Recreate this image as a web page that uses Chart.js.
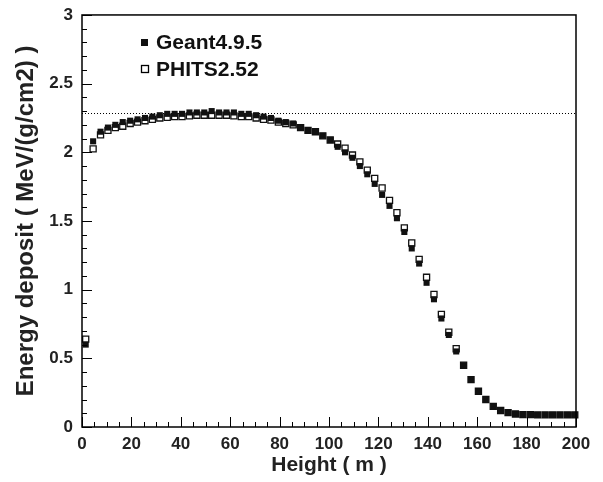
<!DOCTYPE html>
<html>
<head>
<meta charset="utf-8">
<script src="https://cdn.jsdelivr.net/npm/chart.js@4"></script>
<style>
  html, body { margin: 0; padding: 0; background: #fff; }
  #wrap { width: 603px; height: 482px; }
</style>
</head>
<body>
<div id="wrap"><canvas id="c" width="603" height="482"></canvas></div>
<script>
// Altura (m): centro de cada bin de 3 m
const heights = [1.5, 4.5, 7.5, 10.5, 13.5, 16.5, 19.5, 22.5, 25.5, 28.5,
  31.5, 34.5, 37.5, 40.5, 43.5, 46.5, 49.5, 52.5, 55.5, 58.5,
  61.5, 64.5, 67.5, 70.5, 73.5, 76.5, 79.5, 82.5, 85.5, 88.5,
  91.5, 94.5, 97.5, 100.5, 103.5, 106.5, 109.5, 112.5, 115.5, 118.5,
  121.5, 124.5, 127.5, 130.5, 133.5, 136.5, 139.5, 142.5, 145.5, 148.5,
  151.5, 154.5, 157.5, 160.5, 163.5, 166.5, 169.5, 172.5, 175.5, 178.5,
  181.5, 184.5, 187.5, 190.5, 193.5, 196.5, 199.5];

const geant = [0.60, 2.08, 2.15, 2.18, 2.20, 2.22, 2.23, 2.24, 2.25, 2.26,
  2.27, 2.28, 2.28, 2.28, 2.29, 2.29, 2.29, 2.30, 2.29, 2.29,
  2.29, 2.28, 2.28, 2.27, 2.26, 2.25, 2.23, 2.22, 2.21, 2.18,
  2.16, 2.15, 2.12, 2.09, 2.04, 2.00, 1.96, 1.90, 1.84, 1.77,
  1.69, 1.61, 1.52, 1.42, 1.30, 1.19, 1.05, 0.93, 0.79, 0.67,
  0.55, 0.45, 0.345, 0.26, 0.20, 0.15, 0.12, 0.105, 0.095, 0.09,
  0.09, 0.088, 0.088, 0.088, 0.088, 0.088, 0.088];

const phits = [0.64, 2.025, 2.127, 2.16, 2.18, 2.19, 2.21, 2.22, 2.23, 2.24,
  2.25, 2.255, 2.26, 2.26, 2.265, 2.27, 2.27, 2.27, 2.27, 2.27,
  2.265, 2.26, 2.26, 2.25, 2.24, 2.235, 2.22, 2.21, 2.20, 2.18,
  2.16, 2.15, 2.12, 2.09, 2.06, 2.03, 1.98, 1.93, 1.87, 1.81,
  1.74, 1.65, 1.56, 1.45, 1.34, 1.22, 1.09, 0.965, 0.82, 0.69,
  0.57, 0.45, 0.345, 0.26, 0.20, 0.15, 0.12, 0.105, 0.095, 0.09,
  0.09, 0.088, 0.088, 0.088, 0.088, 0.088, 0.088];

const refLevel = 2.287;   // línea punteada
const seriesNames = ['Geant4.9.5', 'PHITS2.52'];

const FONT = '"Liberation Sans", Arial, Helvetica, sans-serif';

const toPts = (ys) => heights.map((h, i) => ({ x: h, y: ys[i] }));

// Marco, ticks interiores, línea de referencia y leyenda
const framePlugin = {
  id: 'frame',
  beforeDatasetsDraw(chart) {
    const { ctx, scales: { x, y } } = chart;
    ctx.save();
    ctx.strokeStyle = '#000';
    ctx.lineWidth = 1;
    ctx.setLineDash([1, 2]);
    ctx.beginPath();
    const yr = Math.round(y.getPixelForValue(refLevel)) + 0.5;
    ctx.moveTo(x.getPixelForValue(0), yr);
    ctx.lineTo(x.getPixelForValue(200), yr);
    ctx.stroke();
    ctx.restore();
  },
  afterDraw(chart) {
    const { ctx, chartArea: a, scales: { x, y } } = chart;
    ctx.save();
    ctx.strokeStyle = '#000';
    ctx.lineWidth = 1.5;
    ctx.strokeRect(a.left, a.top, a.right - a.left, a.bottom - a.top);
    ctx.lineWidth = 1;
    ctx.beginPath();
    for (let v = 0; v <= 200; v += 5) {
      const px = Math.round(x.getPixelForValue(v)) + 0.5;
      const len = v % 20 === 0 ? 10 : 5;
      ctx.moveTo(px, a.bottom);
      ctx.lineTo(px, a.bottom - len);
    }
    for (let k = 0; k <= 30; k++) {
      const py = Math.round(y.getPixelForValue(k / 10)) + 0.5;
      const len = k % 5 === 0 ? 10 : 5;
      ctx.moveTo(a.left, py);
      ctx.lineTo(a.left + len, py);
    }
    ctx.stroke();

    // leyenda
    ctx.font = 'bold 21px ' + FONT;
    ctx.textBaseline = 'middle';
    ctx.fillStyle = '#111';
    ctx.fillRect(141, 39, 7, 7);
    ctx.fillText(seriesNames[0], 156, 43);
    ctx.lineWidth = 1.3;
    ctx.strokeRect(141.5, 65.5, 7, 7);
    ctx.fillText(seriesNames[1], 156, 70);
    ctx.restore();
  }
};

new Chart(document.getElementById('c'), {
  type: 'scatter',
  data: {
    datasets: [
      {
        label: seriesNames[0],
        data: toPts(geant),
        pointStyle: 'rect',
        pointRadius: 4.3,
        pointHoverRadius: 4.3,
        backgroundColor: '#111',
        borderColor: '#111',
        borderWidth: 0,
        clip: false
      },
      {
        label: seriesNames[1],
        data: toPts(phits),
        pointStyle: 'rect',
        pointRadius: 4.3,
        pointHoverRadius: 4.3,
        backgroundColor: '#fff',
        borderColor: '#111',
        borderWidth: 1.3,
        clip: false
      }
    ]
  },
  options: {
    responsive: false,
    animation: false,
    layout: { padding: { top: 14, right: 27, left: 0, bottom: 0 } },
    plugins: { legend: { display: false }, tooltip: { enabled: false } },
    scales: {
      x: {
        type: 'linear',
        min: 0, max: 200,
        grid: { display: false, drawTicks: false },
        border: { display: false },
        ticks: { stepSize: 20, padding: 7, color: '#222', font: { family: FONT, size: 17, weight: 'bold' } },
        title: { display: true, text: 'Height ( m )', color: '#222', padding: { top: 4, bottom: 4 }, font: { family: FONT, size: 21, weight: 'bold' } },
        afterFit(s) { s.height = 55; }
      },
      y: {
        min: 0, max: 3,
        grid: { display: false, drawTicks: false },
        border: { display: false },
        ticks: {
          stepSize: 0.5, padding: 9, color: '#222',
          font: { family: FONT, size: 17, weight: 'bold', lineHeight: 0.7 },
          callback: (v) => String(v)
        },
        title: { display: true, text: 'Energy deposit ( MeV/(g/cm2) )', color: '#222', padding: { top: 12, bottom: 4 }, font: { family: FONT, size: 24, weight: 'bold' } },
        afterFit(s) { s.width = 82; }
      }
    }
  },
  plugins: [framePlugin]
});
</script>
</body>
</html>
